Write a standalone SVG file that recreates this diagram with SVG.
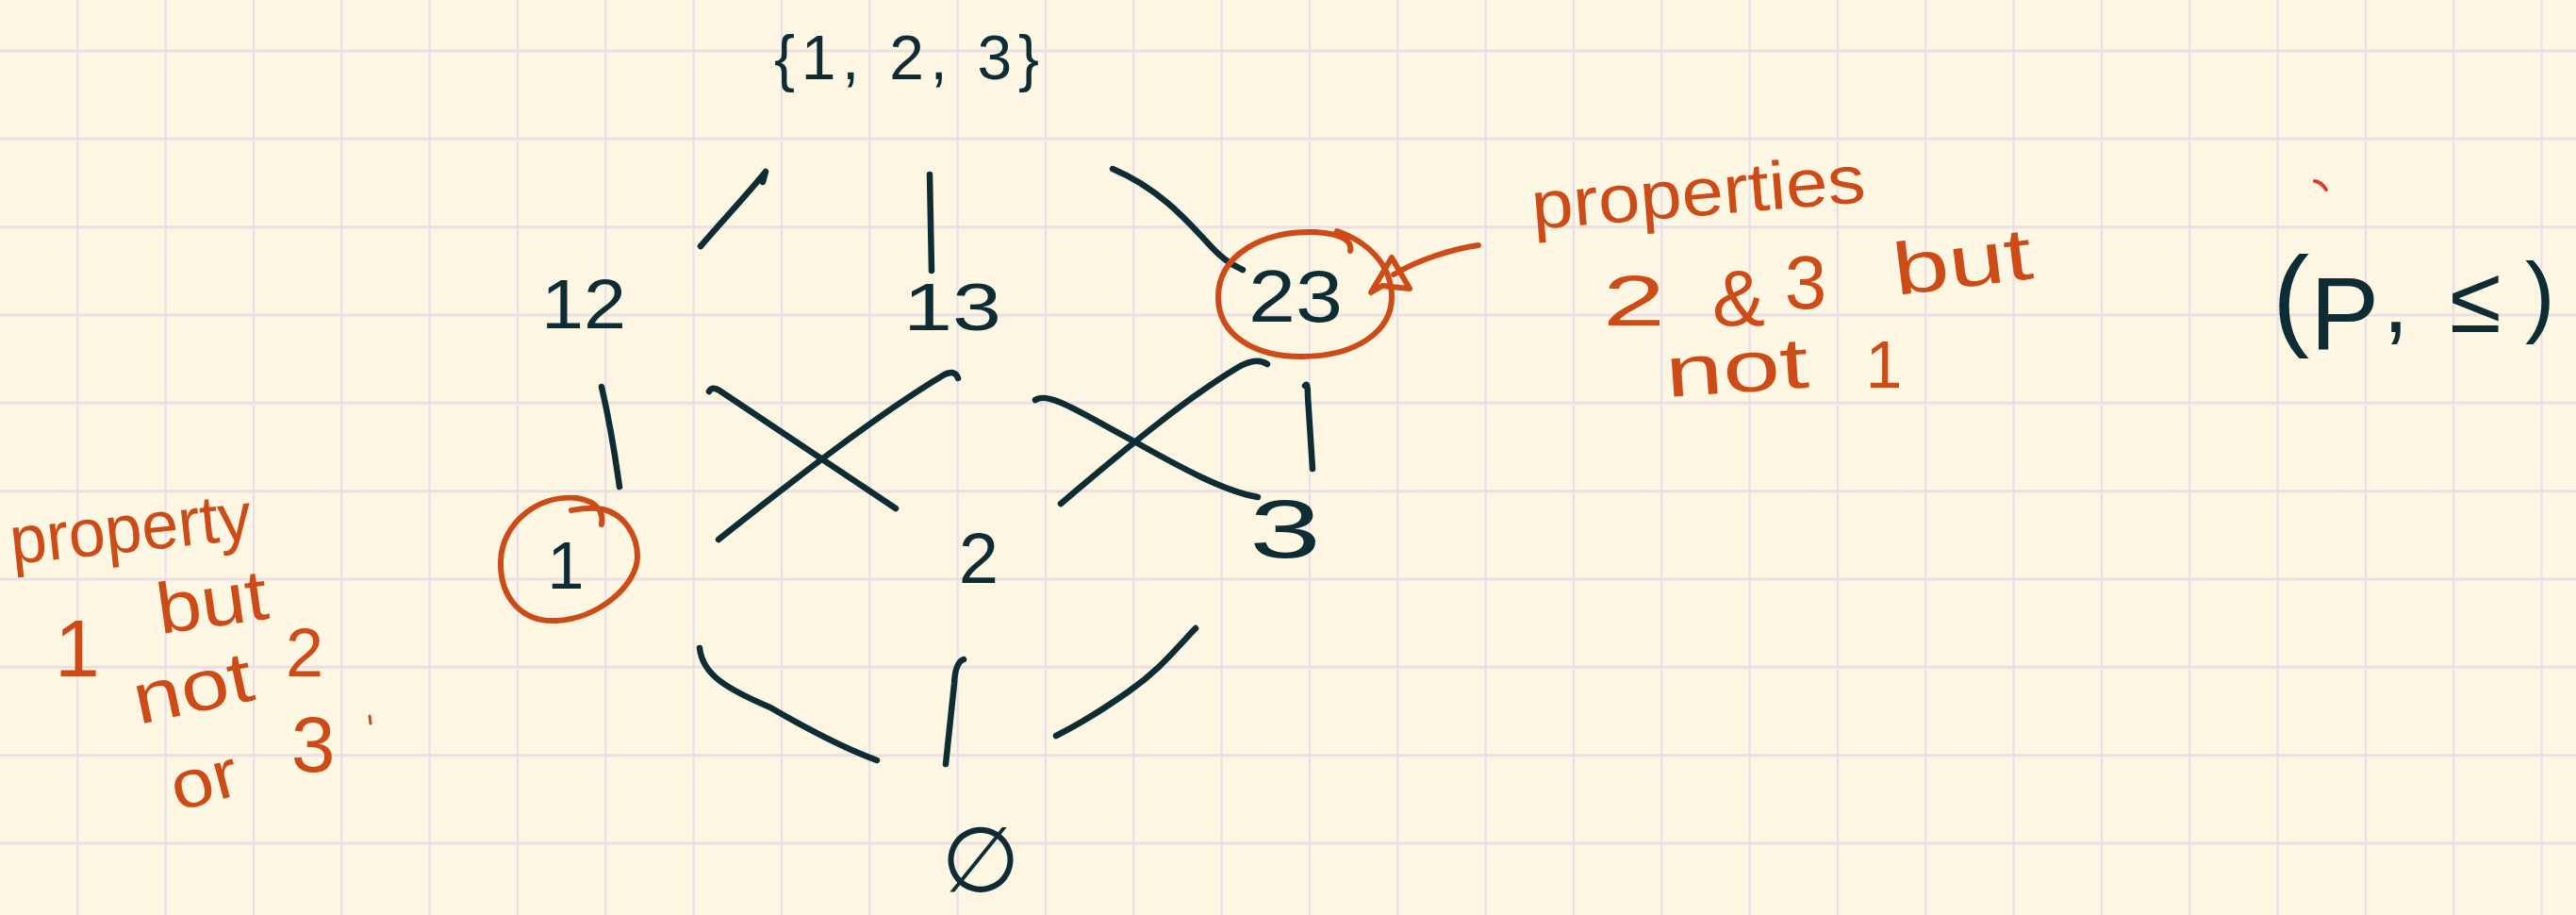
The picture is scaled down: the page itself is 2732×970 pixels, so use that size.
<svg xmlns="http://www.w3.org/2000/svg" width="2732" height="970" viewBox="0 0 2732 970">
<style>
.bg{fill:#fdf6e3}
.gv{fill:none;stroke:#e6ddee;stroke-width:2}
.gh{fill:none;stroke:#ecdfe4;stroke-width:3}
.ink{fill:none;stroke:#0e2c34;stroke-width:6.5;stroke-linecap:round;stroke-linejoin:round}
.red{fill:none;stroke:#cd4b16;stroke-width:6;stroke-linecap:round;stroke-linejoin:round}
.t{font-family:"Liberation Sans",Arial,sans-serif;fill:#0e2c34}
.o{font-family:"Liberation Sans",Arial,sans-serif;fill:#cd4b16}
.mid{text-anchor:middle}
</style>
<rect class="bg" x="0" y="0" width="2732" height="970"/>
<g id="grid">
<path class="gv" d="M82.3 0V970M175.6 0V970M269 0V970M362.3 0V970M455.6 0V970M548.9 0V970M642.3 0V970M735.6 0V970M828.9 0V970M922.3 0V970M1015.6 0V970M1108.9 0V970M1202.3 0V970M1295.6 0V970M1388.9 0V970M1482.3 0V970M1575.6 0V970M1668.9 0V970M1762.2 0V970M1855.6 0V970M1948.9 0V970M2042.2 0V970M2135.6 0V970M2228.9 0V970M2322.2 0V970M2415.6 0V970M2508.9 0V970M2602.2 0V970M2695.5 0V970"/>
<path class="gh" d="M0 54H2732M0 147.3H2732M0 240.7H2732M0 334H2732M0 427.3H2732M0 520.7H2732M0 614H2732M0 707.3H2732M0 800.7H2732M0 894H2732"/>
</g>
<g id="connectors">
<path class="ink" d="M743 261C770 230 795 203 812 182L809 193"/>
<path class="ink" d="M986 185L988 287"/>
<path class="ink" d="M1180 179C1230 200 1260 235 1285 262C1300 278 1310 282 1318 286"/>
<path class="ink" d="M638 410C645 440 652 480 657 516"/>
<path class="ink" d="M752 415Q755 409 763 414L950 539"/>
<path class="ink" d="M1016 401Q1013 391 1000 398C930 440 840 510 762 572"/>
<path class="ink" d="M1098 424C1112 414 1150 440 1203 468C1260 500 1300 521 1334 527"/>
<path class="ink" d="M1344 386Q1332 378 1312 390C1262 420 1200 470 1125 534"/>
<path class="ink" d="M1384 409Q1387 404 1387 420L1392 497"/>
<path class="ink" d="M742 687C745 715 770 730 817 750C860 775 900 795 930 806"/>
<path class="ink" d="M1022 699Q1013 702 1012 725L1003 810"/>
<path class="ink" d="M1268 666C1245 690 1230 710 1197 733C1170 752 1140 770 1120 780"/>
<path class="red" d="M1568 260C1540 264 1505 275 1478 291"/>
<path class="red" d="M1454 310L1476 273L1495 306L1466 303Z"/>
</g>
<g id="top">
<text class="t" x="821" y="84" font-size="66" textLength="281">{1, 2, 3}</text>
</g>
<g id="n12">
<text class="t" x="574" y="348" font-size="74" textLength="90" lengthAdjust="spacingAndGlyphs">12</text>
</g>
<g id="n13">
<text class="t" x="958" y="350" font-size="70" textLength="104" lengthAdjust="spacingAndGlyphs">13</text>
</g>
<g id="n23">
<text class="t" x="1324" y="341" font-size="78" textLength="100" lengthAdjust="spacingAndGlyphs">23</text>
<path class="red" d="M1432 266C1434 256 1425 248 1395 246C1340 244 1292 270 1292 315C1292 355 1330 378 1380 378C1440 378 1476 350 1476 315C1476 280 1450 256 1418 245"/>
</g>
<g id="n1">
<text class="t mid" x="600" y="624" font-size="70">1</text>
<path class="red" d="M638 556C640 545 636 532 612 528C570 524 532 555 531 595C530 635 555 660 590 658C635 656 676 620 676 590C676 565 660 545 640 540C625 537 612 540 606 541"/>
</g>
<g id="n2">
<text class="t mid" x="1038" y="618" font-size="76">2</text>
</g>
<g id="n3">
<text class="t mid" x="1363" y="591" font-size="88" textLength="76" lengthAdjust="spacingAndGlyphs">3</text>
</g>
<g id="empty">
<text class="t mid" x="1040" y="945" font-size="96" style="font-family:'DejaVu Sans',sans-serif">∅</text>
</g>
<g id="note-1">
<text class="o" x="13" y="598" font-size="72" textLength="257" lengthAdjust="spacingAndGlyphs" transform="rotate(-6 13 598)">property</text>
<text class="o mid" x="82" y="717" font-size="86">1</text>
<text class="o" x="170" y="672" font-size="76" textLength="118" lengthAdjust="spacingAndGlyphs" transform="rotate(-8 170 672)">but</text>
<text class="o" x="147" y="768" font-size="76" textLength="128" lengthAdjust="spacingAndGlyphs" transform="rotate(-12 147 768)">not</text>
<text class="o mid" x="323" y="717" font-size="72">2</text>
<text class="o" x="188" y="860" font-size="72" textLength="72" lengthAdjust="spacingAndGlyphs" transform="rotate(-15 188 860)">or</text>
<text class="o mid" x="332" y="818" font-size="84">3</text>
<path class="red" style="stroke-width:3" d="M392 759L393 767"/>
</g>
<g id="note-23">
<text class="o" x="1626" y="243" font-size="72" textLength="355" lengthAdjust="spacingAndGlyphs" transform="rotate(-4.7 1626 243)">properties</text>
<text class="o mid" x="1733" y="345" font-size="76" textLength="66" lengthAdjust="spacingAndGlyphs">2</text>
<text class="o mid" x="1844" y="345" font-size="84">&amp;</text>
<text class="o mid" x="1915" y="327" font-size="80">3</text>
<text class="o" x="2011" y="313" font-size="78" textLength="148" lengthAdjust="spacingAndGlyphs" transform="rotate(-7 2011 313)">but</text>
<text class="o" x="1768" y="421" font-size="76" textLength="152" lengthAdjust="spacingAndGlyphs" transform="rotate(-4 1768 421)">not</text>
<text class="o mid" x="1998" y="411" font-size="70">1</text>
</g>
<g id="poset">
<text class="t" x="2410" y="355" font-size="118">(</text>
<text class="t" x="2450" y="370" font-size="110">P</text>
<text class="t" x="2527" y="352" font-size="100">,</text>
<text class="t" x="2598" y="352" font-size="100">≤</text>
<text class="t" x="2678" y="345" font-size="95">)</text>
<path fill="none" stroke="#e23b2c" stroke-width="4" stroke-linecap="round" d="M2455 192Q2462 193 2467 201"/>
</g>
</svg>
